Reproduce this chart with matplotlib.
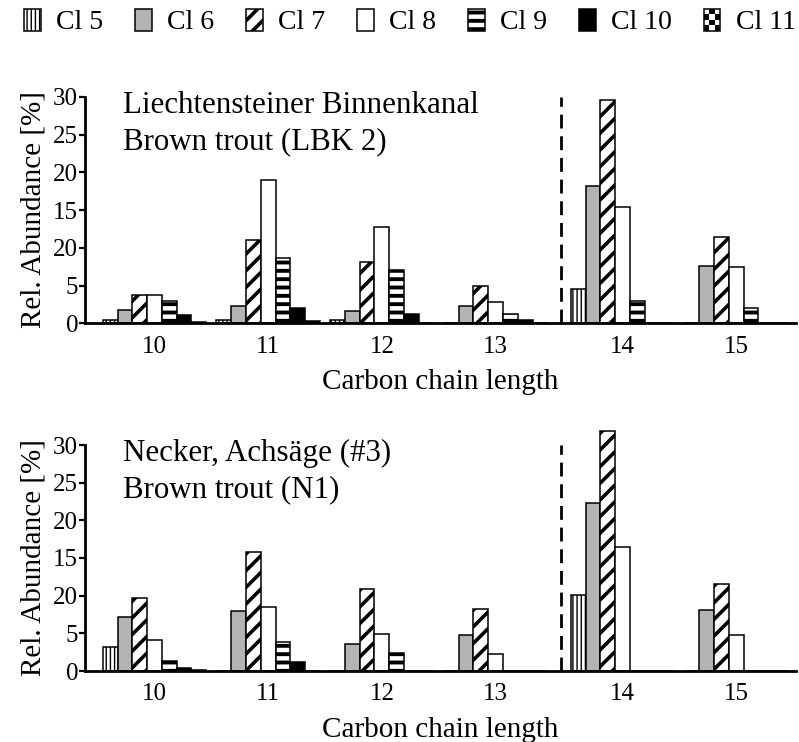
import numpy as np
import matplotlib
matplotlib.use("Agg")
import matplotlib.pyplot as plt
from matplotlib.patches import Patch, Rectangle
from matplotlib.legend_handler import HandlerBase, HandlerPatch

plt.rcParams['font.family'] = ['Liberation Serif', 'DejaVu Serif']

# chain lengths on the x axis
chain_lengths = ['10', '11', '12', '13', '14', '15']
series_names = ['Cl 5', 'Cl 6', 'Cl 7', 'Cl 8', 'Cl 9', 'Cl 10', 'Cl 11']
ytick_values = [0, 5, 10, 15, 20, 25, 30]
ytick_labels = ['0', '5', '20', '15', '20', '25', '30']

# Liechtensteiner Binnenkanal, brown trout (LBK 2)
lbk_cl5 = [0.4, 0.4, 0.4, 0.0, 4.5, 0.0]
lbk_cl6 = [1.8, 2.25, 1.65, 2.35, 18.2, 7.6]
lbk_cl7 = [3.75, 11.0, 8.1, 5.0, 29.6, 11.4]
lbk_cl8 = [3.75, 19.0, 12.8, 2.8, 15.45, 7.4]
lbk_cl9 = [2.9, 8.7, 7.0, 1.2, 2.9, 2.0]
lbk_cl10 = [1.15, 2.0, 1.2, 0.4, 0.0, 0.0]
lbk_cl11 = [0.2, 0.25, 0.0, 0.0, 0.0, 0.0]

# Necker, Achsaege (#3), brown trout (N1)
n1_cl5 = [3.15, 0.0, 0.0, 0.0, 10.1, 0.0]
n1_cl6 = [7.15, 7.95, 3.55, 4.8, 22.3, 8.15]
n1_cl7 = [9.65, 15.8, 10.95, 8.25, 31.8, 11.5]
n1_cl8 = [4.1, 8.5, 4.95, 2.2, 16.45, 4.75]
n1_cl9 = [1.3, 3.9, 2.35, 0.0, 0.0, 0.0]
n1_cl10 = [0.35, 1.25, 0.0, 0.0, 0.0, 0.0]
n1_cl11 = [0.15, 0.0, 0.0, 0.0, 0.0, 0.0]

panels = [
    (["Liechtensteiner Binnenkanal", "Brown trout (LBK 2)"],
     [lbk_cl5, lbk_cl6, lbk_cl7, lbk_cl8, lbk_cl9, lbk_cl10, lbk_cl11]),
    (["Necker, Achsäge (#3)", "Brown trout (N1)"],
     [n1_cl5, n1_cl6, n1_cl7, n1_cl8, n1_cl9, n1_cl10, n1_cl11]),
]

# fill / hatch style per series: (facecolor, hatch, hatch line width)
styles = [
    ('white', '||||', 1.0),
    ('#b3b3b3', None, 1.0),
    ('white', '//', 2.6),
    ('white', None, 1.0),
    ('white', '--', 2.8),
    ('black', None, 1.0),
    ('white', '++', 2.8),
]

bar_w = 0.13
gap_after = 3          # extra space after the C13 group (broken axis)
gap_size = 0.117
group_x = np.array([i + (gap_size if i > gap_after else 0.0)
                    for i in range(len(chain_lengths))])
divider_x = gap_after + 0.576


def styled_patch_kwargs(face, hatch):
    kw = dict(facecolor=face, edgecolor='black', linewidth=1.1)
    if hatch:
        kw['hatch'] = hatch
    return kw


def apply_hatch_lw(artist, lw):
    if hasattr(artist, 'set_hatch_linewidth'):
        artist.set_hatch_linewidth(lw)


def copy_hatch_lw(legend_handle, orig_handle):
    legend_handle.update_from(orig_handle)
    if hasattr(orig_handle, 'get_hatch_linewidth'):
        apply_hatch_lw(legend_handle, orig_handle.get_hatch_linewidth())


class CheckerHandler(HandlerBase):
    """Legend key drawn as a small black/white checkerboard."""

    def create_artists(self, legend, orig_handle, xdescent, ydescent,
                       width, height, fontsize, trans):
        nx, ny = 3, 4
        cw, ch = width / nx, height / ny
        x0, y0 = -xdescent, -ydescent
        arts = []
        for i in range(nx):
            for j in range(ny):
                face = 'black' if (i + j) % 2 == 0 else 'white'
                arts.append(Rectangle((x0 + i * cw, y0 + j * ch), cw, ch,
                                      facecolor=face, edgecolor='none',
                                      transform=trans))
        arts.append(Rectangle((x0, y0), width, height, facecolor='none',
                              edgecolor='black', linewidth=1.1,
                              transform=trans))
        return arts


fig = plt.figure(figsize=(7.99, 7.42), dpi=100)
ax_left = 85 / 799
ax_width = (796 - 85) / 799
axes_boxes = [
    [ax_left, 1 - 323.3 / 742, ax_width, 226.5 / 742],
    [ax_left, 1 - 671.0 / 742, ax_width, 226.0 / 742],
]

for (title_lines, series), box in zip(panels, axes_boxes):
    ax = fig.add_axes(box)
    for k, (vals, (face, hatch, hlw)) in enumerate(zip(series, styles)):
        with plt.rc_context({'hatch.linewidth': hlw}):
            bars = ax.bar(group_x + (k - 3) * bar_w, vals, width=bar_w,
                          clip_on=False, zorder=2,
                          **styled_patch_kwargs(face, hatch))
        for b in bars:
            apply_hatch_lw(b, hlw)
    ax.axvline(divider_x, ymin=0, ymax=1, color='black', lw=2.0,
               dashes=(5.0, 2.8), zorder=1)
    ax.set_xlim(-0.611, (796 - 154.5) / 113.7)
    ax.set_ylim(0, 30)
    ax.set_yticks(ytick_values)
    ax.set_yticklabels(ytick_labels)
    ax.set_xticks(group_x)
    ax.set_xticklabels(chain_lengths)
    ax.tick_params(axis='y', direction='out', length=4, width=1.6,
                   labelsize=18, pad=1)
    ax.tick_params(axis='x', length=0, labelsize=18, pad=9)
    for s in ('top', 'right'):
        ax.spines[s].set_visible(False)
    for s in ('left', 'bottom'):
        ax.spines[s].set_linewidth(2.0)
        ax.spines[s].set_zorder(3)
    ax.set_xlabel('Carbon chain length', fontsize=21, labelpad=8)
    ax.set_ylabel('Rel. Abundance [%]', fontsize=21, labelpad=5)
    ax.text(0.054, 0.962, title_lines[0], transform=ax.transAxes,
            fontsize=22.3, va='center', ha='left')
    ax.text(0.054, 0.800, title_lines[1], transform=ax.transAxes,
            fontsize=22.3, va='center', ha='left')

handles = []
for name, (face, hatch, hlw) in zip(series_names, styles):
    with plt.rc_context({'hatch.linewidth': hlw}):
        p = Patch(label=name, **styled_patch_kwargs(face, hatch))
    apply_hatch_lw(p, hlw)
    handles.append(p)

handler_map = {h: HandlerPatch(update_func=copy_hatch_lw) for h in handles[:-1]}
handler_map[handles[-1]] = CheckerHandler()

fig.legend(handles=handles, loc='center', bbox_to_anchor=(0.513, 1 - 22 / 742),
           ncol=7, frameon=False, fontsize=20, handlelength=0.6,
           handleheight=0.85, handletextpad=0.55, columnspacing=1.15,
           borderpad=0, borderaxespad=0, handler_map=handler_map)

fig.savefig('out.png', dpi=100)
